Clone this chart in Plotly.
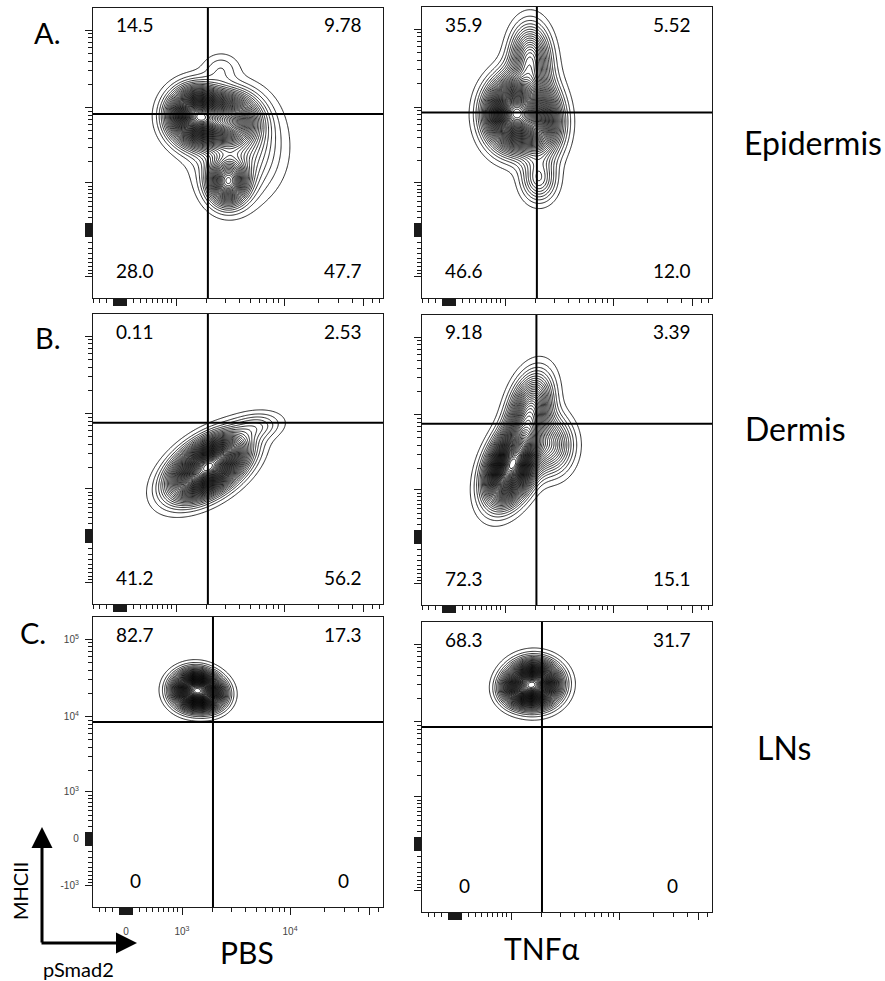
import numpy as np
import plotly.graph_objects as go

# ---------------- data ----------------
row_labels = ["A.", "B.", "C."]
tissues = ["Epidermis", "Dermis", "LNs"]
conditions = ["PBS", "TNFα"]
# panel order: A-PBS, A-TNF, B-PBS, B-TNF, C-PBS, C-TNF
q_ul = ["14.5", "35.9", "0.11", "9.18", "82.7", "68.3"]
q_ur = ["9.78", "5.52", "2.53", "3.39", "17.3", "31.7"]
q_ll = ["28.0", "46.6", "41.2", "72.3", "0", "0"]
q_lr = ["47.7", "12.0", "56.2", "15.1", "0", "0"]

# quadrant gates (fluorescence units)
gate_x = [2070, 2070, 2070, 2050, 2030, 2030]
gate_y = [8300, 8500, 7600, 7600, 8500, 8500]

# density components (biexponential display units = decades)
comp_cx = [[0.671, 0.953, 0.953, 1.041, 0.891], [0.565, 0.803, 0.715, 0.794, 0.650],
           [0.777, 1.218], [0.556, 0.715, 0.891], [0.609, 0.750], [0.697, 0.547]]
comp_cy = [[1.473, 1.421, 0.620, 1.059, 2.093], [1.486, 1.382, 2.230, 0.646, 1.750],
           [0.891, 1.421], [0.930, 1.641, 1.189], [1.925, 1.860], [2.067, 1.990]]
comp_sx = [[0.141, 0.159, 0.106, 0.221, 0.106], [0.141, 0.124, 0.106, 0.097, 0.150],
           [0.194, 0.141], [0.132, 0.115, 0.124], [0.115, 0.097], [0.132, 0.097]]
comp_sy = [[0.207, 0.207, 0.181, 0.388, 0.129], [0.258, 0.284, 0.260, 0.181, 0.300],
           [0.233, 0.116], [0.284, 0.284, 0.233], [0.142, 0.129], [0.168, 0.129]]
comp_rho = [[0.0, 0.0, 0.0, 0.0, 0.0], [0.0, 0.0, 0.0, 0.0, 0.3],
            [0.5, 0.2], [0.4, 0.3, 0.0], [0.0, 0.0], [0.0, 0.0]]
comp_w = [[1.0, 0.6, 0.55, 0.2, 0.06], [1.0, 0.5, 0.35, 0.2, 0.15],
          [1.0, 0.08], [1.0, 0.4, 0.25], [1.0, 0.3], [1.0, 0.25]]

# axis tick values (fluorescence units)
tick_cluster = [-100, -90, -80, -70, -60, -50, -40, -30, -20, -10, 0,
                10, 20, 30, 40, 50, 60, 70, 80, 90, 100]
x_major = tick_cluster + [1000, 10000, 50000]
x_minor = [-400, -300, -200, 200, 300, 400, 500, 600, 700, 800, 900,
           2000, 3000, 4000, 5000, 6000, 7000, 8000, 9000,
           20000, 30000, 40000, 60000, 70000]
y_major = tick_cluster + [-1000, 1000, 10000, 100000]
y_minor = [-900, -800, -700, -600, -500, -400, -300, -200,
           200, 300, 400, 500, 600, 700, 800, 900,
           2000, 3000, 4000, 5000, 6000, 7000, 8000, 9000,
           20000, 30000, 40000, 50000, 60000, 70000, 80000, 90000]
x_labels = {0: "0", 1000: "10<sup>3</sup>", 10000: "10<sup>4</sup>"}
y_labels = {100000: "10<sup>5</sup>", 10000: "10<sup>4</sup>", 1000: "10<sup>3</sup>",
            0: "0", -1000: "-10<sup>3</sup>"}

# ---------------- transform / layout ----------------
CX, CY = 714.0, 526.0
LN10 = np.log(10)


def tx(v):
    return np.arcsinh(np.asarray(v, float) / CX) / LN10


def ty(v):
    return np.arcsinh(np.asarray(v, float) / CY) / LN10


W, H = 885, 981
box_x = [(93, 383), (422, 712), (93, 383), (422, 712), (93, 383), (422, 712)]
box_y = [(8, 298), (7, 298), (314, 604), (315, 605), (617, 907), (622, 912)]
x_rng = [[-0.238, 2.321]] * 4 + [[-0.291, 2.268]] * 2
y_rng = [-0.879, 2.868]

FONT = "Lato, Noto Sans, sans-serif"
fig = go.Figure()
layout = dict(width=W, height=H, margin=dict(l=0, r=0, t=0, b=0),
              paper_bgcolor="white", plot_bgcolor="white", showlegend=False)
shapes, annotations = [], []

for i in range(6):
    xa = "x" if i == 0 else f"x{i+1}"
    ya = "y" if i == 0 else f"y{i+1}"
    xr, yr = x_rng[i], y_rng
    gx = np.linspace(xr[0], xr[1], 320)
    gy = np.linspace(yr[0], yr[1], 320)
    X, Y = np.meshgrid(gx, gy)
    Z = np.zeros_like(X)
    for cx, cy, sx, sy, r, w in zip(comp_cx[i], comp_cy[i], comp_sx[i], comp_sy[i],
                                    comp_rho[i], comp_w[i]):
        dx = (X - cx) / sx
        dy = (Y - cy) / sy
        q = (dx * dx - 2 * r * dx * dy + dy * dy) / (1 - r * r)
        Z += w * np.exp(-0.5 * q)
    Z = Z / Z.max()
    fig.add_trace(go.Contour(
        x=gx, y=gy, z=Z, xaxis=xa, yaxis=ya,
        contours=dict(coloring="lines", start=0.02, end=0.99, size=0.02),
        line=dict(width=0.85, smoothing=1.3), colorscale=[[0, "black"], [1, "black"]],
        showscale=False, hoverinfo="skip"))

    show = (i == 4)
    x0p, x1p = box_x[i]
    y0p, y1p = box_y[i]
    common = dict(showgrid=False, zeroline=False, showline=True, mirror=True,
                  linecolor="#1a1a1a", linewidth=1.2, ticks="outside", ticklen=7,
                  tickwidth=1.3, tickcolor="#1a1a1a", tickmode="array",
                  fixedrange=True,
                  tickfont=dict(family="Liberation Sans, Arial", size=10, color="#444"))
    layout["xaxis" if i == 0 else f"xaxis{i+1}"] = dict(
        common, domain=[x0p / W, x1p / W], range=xr, anchor=ya,
        tickvals=list(tx(x_major)), ticktext=[x_labels.get(v, "") for v in x_major],
        showticklabels=show, ticklabelstandoff=8,
        minor=dict(tickmode="array", tickvals=list(tx(x_minor)), ticks="outside",
                   ticklen=4, tickwidth=1, tickcolor="#1a1a1a", showgrid=False))
    layout["yaxis" if i == 0 else f"yaxis{i+1}"] = dict(
        common, domain=[1 - y1p / H, 1 - y0p / H], range=yr, anchor=xa,
        tickvals=list(ty(y_major)), ticktext=[y_labels.get(v, "") for v in y_major],
        showticklabels=show, ticklabelstandoff=4,
        minor=dict(tickmode="array", tickvals=list(ty(y_minor)), ticks="outside",
                   ticklen=4, tickwidth=1, tickcolor="#1a1a1a", showgrid=False))

    # quadrant gates
    shapes.append(dict(type="line", xref=xa, yref=f"{ya} domain",
                       x0=float(tx(gate_x[i])), x1=float(tx(gate_x[i])), y0=0, y1=1,
                       line=dict(color="black", width=2)))
    shapes.append(dict(type="line", xref=f"{xa} domain", yref=ya,
                       x0=0, x1=1, y0=float(ty(gate_y[i])), y1=float(ty(gate_y[i])),
                       line=dict(color="black", width=2)))

    # quadrant percentages
    qf = dict(family=FONT, size=19, color="black")
    for txt, px, py in [(q_ul[i], x0p + 42, y0p + 17), (q_ur[i], x1p - 40, y0p + 17),
                        (q_ll[i], x0p + 42, y1p - 27), (q_lr[i], x1p - 40, y1p - 27)]:
        annotations.append(dict(text=txt, xref="paper", yref="paper", x=px / W, y=1 - py / H,
                                xanchor="center", yanchor="middle", showarrow=False, font=qf))

# row letters and tissues
for txt, px, py in zip(row_labels, [32, 33, 18], [33, 338, 632]):
    annotations.append(dict(text=txt, xref="paper", yref="paper", x=px / W, y=1 - py / H,
                            xanchor="left", yanchor="middle", showarrow=False,
                            font=dict(family=FONT, size=29, color="black")))
for txt, px, py in zip(tissues, [742, 743, 755], [143, 428, 747]):
    annotations.append(dict(text=txt, xref="paper", yref="paper", x=px / W, y=1 - py / H,
                            xanchor="left", yanchor="middle", showarrow=False,
                            font=dict(family=FONT, size=32, color="black")))
for txt, px, py in zip(conditions, [247, 542], [952, 948]):
    annotations.append(dict(text=txt, xref="paper", yref="paper", x=px / W, y=1 - py / H,
                            xanchor="center", yanchor="middle", showarrow=False,
                            font=dict(family=FONT, size=30, color="black")))
annotations.append(dict(text="MHCII", xref="paper", yref="paper", x=20 / W, y=1 - 891 / H,
                        xanchor="center", yanchor="middle", showarrow=False, textangle=-90,
                        font=dict(family=FONT, size=20, color="black")))
annotations.append(dict(text="pSmad2", xref="paper", yref="paper", x=78 / W, y=1 - 969 / H,
                        xanchor="center", yanchor="middle", showarrow=False,
                        font=dict(family=FONT, size=20, color="black")))
# axis direction arrows
annotations.append(dict(text="", xref="paper", yref="paper", x=42 / W, y=1 - 827 / H,
                        ax=0, ay=117, showarrow=True, arrowhead=2, arrowsize=1.4,
                        arrowwidth=3, arrowcolor="black"))
annotations.append(dict(text="", xref="paper", yref="paper", x=137 / W, y=1 - 943 / H,
                        ax=-97, ay=0, showarrow=True, arrowhead=2, arrowsize=1.4,
                        arrowwidth=3, arrowcolor="black"))

layout["shapes"] = shapes
layout["annotations"] = annotations
fig.update_layout(**layout)
fig.write_html("out.html", config={"displayModeBar": False},
               post_script="document.body.style.margin='0';")
